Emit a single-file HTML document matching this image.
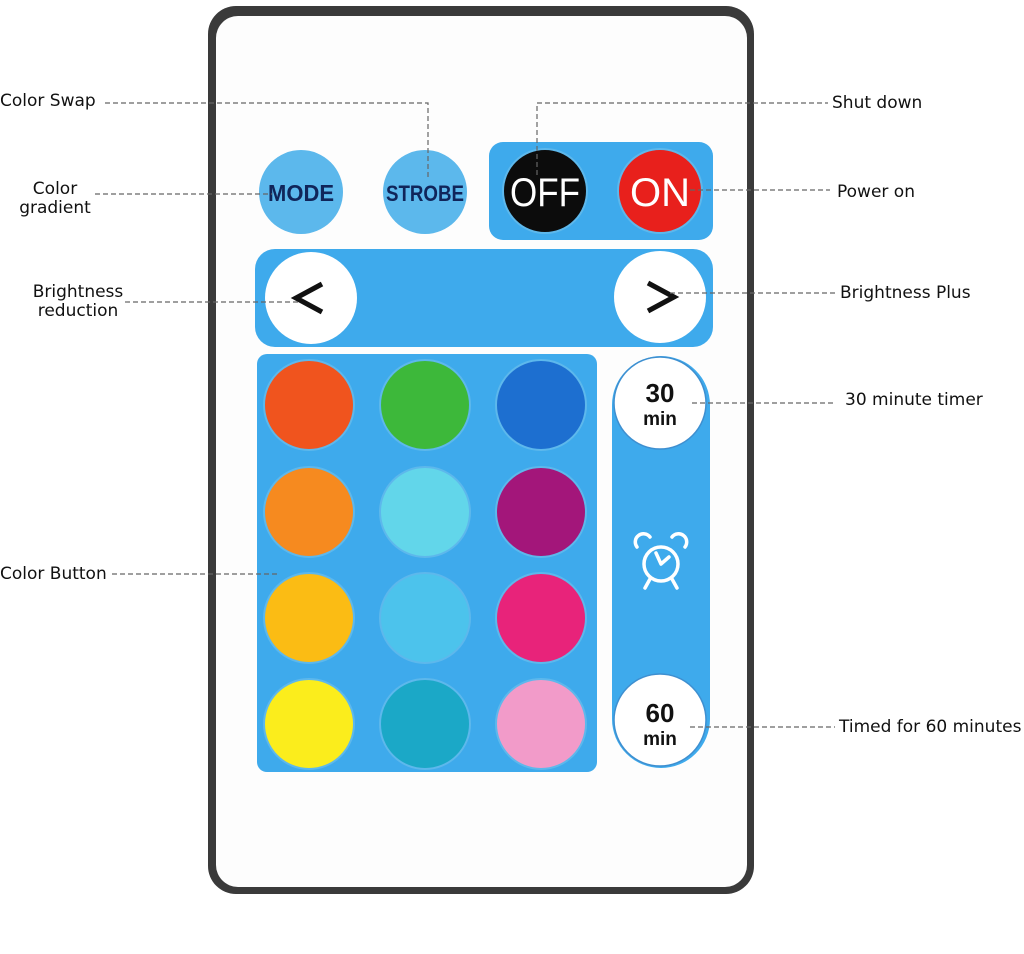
<!DOCTYPE html>
<html><head><meta charset="utf-8"><style>
body{margin:0;width:1024px;height:954px;background:#fff;overflow:hidden}
svg{display:block}
.l{font-family:"DejaVu Sans","Liberation Sans",sans-serif;font-size:17px;fill:#111}
.d{stroke:#666;stroke-width:1.2;stroke-dasharray:5 3;fill:none}
.b{font-family:"Liberation Sans",sans-serif;font-weight:bold}
</style></head><body>
<svg width="1024" height="954" viewBox="0 0 1024 954">
<rect x="208" y="6" width="546" height="888" rx="28" fill="#3a3a3a"/>
<rect x="216" y="16" width="531" height="871" rx="22" fill="#fdfdfd"/>
<circle cx="301" cy="192" r="42" fill="#5cb8ec"/>
<text x="301" y="201" class="b" font-size="23" fill="#10255a" text-anchor="middle" textLength="66" lengthAdjust="spacingAndGlyphs">MODE</text>
<circle cx="425" cy="192" r="42" fill="#5cb8ec"/>
<text x="425" y="201" class="b" font-size="22" fill="#10255a" text-anchor="middle" textLength="78" lengthAdjust="spacingAndGlyphs">STROBE</text>
<rect x="489" y="142" width="224" height="98" rx="14" fill="#3eaaec"/>
<circle cx="545" cy="191" r="42" fill="#0c0c0c" stroke="#5db8ec" stroke-width="2"/>
<text x="545" y="206" font-family="Liberation Sans,sans-serif" font-size="40" fill="#fff" text-anchor="middle" textLength="70" lengthAdjust="spacingAndGlyphs">OFF</text>
<circle cx="660" cy="191" r="42" fill="#e8201c" stroke="#5db8ec" stroke-width="2"/>
<text x="660" y="206" font-family="Liberation Sans,sans-serif" font-size="40" fill="#fff" text-anchor="middle">ON</text>
<rect x="255" y="249" width="458" height="98" rx="20" fill="#3eaaec"/>
<circle cx="311" cy="298" r="46" fill="#fff"/>
<circle cx="660" cy="297" r="46" fill="#fff"/>
<path d="M322 284 L296 298 L322 312" stroke="#111" stroke-width="5" fill="none"/>
<path d="M648 283 L674 297 L648 311" stroke="#111" stroke-width="5" fill="none"/>
<rect x="257" y="354" width="340" height="418" rx="10" fill="#3eaaec"/>
<g stroke="#5db8ec" stroke-width="2">
<circle cx="309" cy="405" r="45" fill="#f0541e"/>
<circle cx="425" cy="405" r="45" fill="#3db83a"/>
<circle cx="541" cy="405" r="45" fill="#1d6fd0"/>
<circle cx="309" cy="512" r="45" fill="#f68a1f"/>
<circle cx="425" cy="512" r="45" fill="#62d6ea"/>
<circle cx="541" cy="512" r="45" fill="#a3167a"/>
<circle cx="309" cy="618" r="45" fill="#fbbc14"/>
<circle cx="425" cy="618" r="45" fill="#4cc3ec"/>
<circle cx="541" cy="618" r="45" fill="#e8237a"/>
<circle cx="309" cy="724" r="45" fill="#fbed1c"/>
<circle cx="425" cy="724" r="45" fill="#1ba8c7"/>
<circle cx="541" cy="724" r="45" fill="#f29bc9"/>
</g>
<rect x="612" y="356" width="98" height="412" rx="49" fill="#3eaaec"/>
<circle cx="660" cy="403" r="46" fill="#fff" stroke="#3e8fd0" stroke-width="1.5"/>
<text x="660" y="402" class="b" font-size="26" fill="#111" text-anchor="middle">30</text>
<text x="660" y="425" class="b" font-size="19" fill="#111" text-anchor="middle">min</text>
<circle cx="660" cy="720" r="46" fill="#fff" stroke="#3e8fd0" stroke-width="1.5"/>
<text x="660" y="722" class="b" font-size="26" fill="#111" text-anchor="middle">60</text>
<text x="660" y="745" class="b" font-size="19" fill="#111" text-anchor="middle">min</text>
<g stroke="#fff" stroke-width="3.5" fill="none" stroke-linecap="round">
<circle cx="661" cy="564" r="17"/>
<path d="M637 547 a8 8 0 0 1 13 -10"/><path d="M672 537 a8 8 0 0 1 13 10"/>
<path d="M650 579 L645 588 M672 579 L677 588"/>
<path d="M661 564 L656 553 M661 564 L669 557"/>
</g>
<path class="d" d="M105 103 H428 V180"/>
<path class="d" d="M95 194 H272"/>
<path class="d" d="M537 175 V103 H828"/>
<path class="d" d="M690 190 H830"/>
<path class="d" d="M125 302 H300"/>
<path class="d" d="M670 293 H835"/>
<path class="d" d="M692 403 H835"/>
<path class="d" d="M112 574 H280"/>
<path class="d" d="M690 727 H835"/>
<text x="0" y="106" class="l">Color Swap</text>
<text x="55" y="194" class="l" text-anchor="middle">Color</text>
<text x="55" y="213" class="l" text-anchor="middle">gradient</text>
<text x="832" y="108" class="l">Shut down</text>
<text x="837" y="197" class="l">Power on</text>
<text x="78" y="297" class="l" text-anchor="middle">Brightness</text>
<text x="78" y="316" class="l" text-anchor="middle">reduction</text>
<text x="840" y="298" class="l">Brightness Plus</text>
<text x="845" y="405" class="l">30 minute timer</text>
<text x="0" y="579" class="l">Color Button</text>
<text x="839" y="732" class="l">Timed for 60 minutes</text>
</svg>
</body></html>
